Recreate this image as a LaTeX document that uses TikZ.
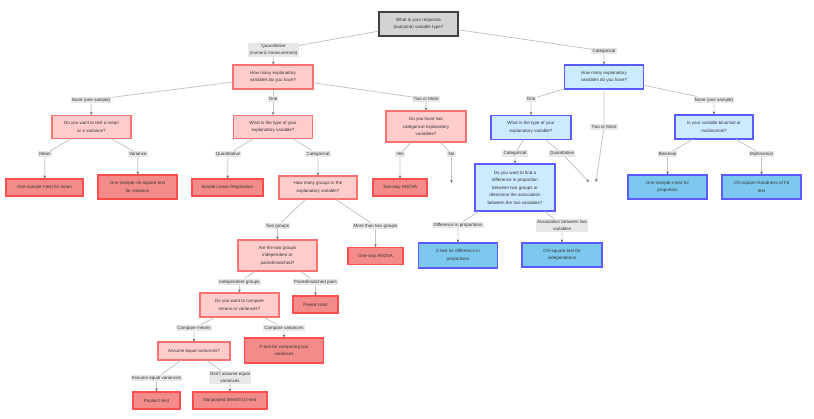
\documentclass[tikz,border=0pt]{standalone}
\usepackage{fontspec}
\setmainfont{Liberation Sans}
\usetikzlibrary{arrows.meta}
\definecolor{qred}{HTML}{FFCCCC}
\definecolor{leafred}{HTML}{F38B8B}
\definecolor{borderred}{HTML}{FF4D4D}
\definecolor{qblue}{HTML}{CDEBFF}
\definecolor{leafblue}{HTML}{7DC8EE}
\definecolor{borderblue}{HTML}{5B5BFF}
\definecolor{rootgray}{HTML}{D3D3D3}
\definecolor{labelgray}{HTML}{E8E8E8}
\definecolor{linegray}{HTML}{C4C4C4}
\definecolor{textdark}{HTML}{333333}

\begin{document}
\begin{tikzpicture}[x=1pt,y=-1pt]
    % Stili per i nodi e gli archi
    \tikzset{
        box_base/.style={
            text=textdark,
            line width=1.1pt,
            minimum width=79pt, % larghezza standard
            minimum height=24pt, % altezza standard
            align=center,
            font=\fontsize{4.5}{7.5}\selectfont,
            inner sep=1pt
        },
        root_box/.style={box_base, draw=black!75, fill=rootgray, line width=1.2pt},
        red_question/.style={box_base, draw=borderred!80, fill=qred},
        red_answer/.style={box_base, draw=borderred, fill=leafred},
        blue_question/.style={box_base, draw=borderblue, fill=qblue},
        blue_answer/.style={box_base, draw=borderblue, fill=leafblue},
        edge_label/.style={
            fill=labelgray,
            text=textdark,
            font=\fontsize{4.5}{7}\selectfont,
            align=center,
            inner sep=1.2pt
        },
        edge/.style={
            draw=linegray,
            line width=0.8pt,
            -{Stealth[length=3pt,width=2.6pt,color=black!60]}
        }
    }

    \useasboundingbox (0,0) rectangle (814,419);

    % Radice
    \node[root_box] (q_response) at (418.5,24) {What is your response\\(outcome) variable type?};

    % Ramo quantitativo
    \node[red_question, minimum width=80pt] (q_quant_count) at (273,77) {How many explanatory\\variables do you have?};
    \node[red_question, minimum height=23pt] (q_mean_var) at (91.5,127) {Do you want to test a mean\\or a variance?};
    \node[red_question, minimum height=23pt] (q_expl_type) at (273,127) {What is the type of your\\explanatory variable?};
    \node[red_question, minimum width=80pt, minimum height=31pt] (q_two_cat) at (426,126.5) {Do you have two\\categorical explanatory\\variables?};
    \node[red_answer, minimum width=77pt, minimum height=17pt] (a_t_mean) at (44.5,187.5) {One-sample t-test for mean};
    \node[red_answer] (a_chi_var) at (137.5,187) {One-sample chi-square test\\for variance};
    \node[red_answer, minimum width=71pt, minimum height=17pt] (a_slr) at (227.5,187.5) {Simple Linear Regression};
    \node[red_question, minimum width=78pt, minimum height=23pt] (q_groups) at (318,187.5) {How many groups in the\\explanatory variable?};
    \node[red_answer, minimum width=54pt, minimum height=17pt] (a_anova2) at (400,187.5) {Two-way ANOVA};
    \coordinate (end_no) at (451.5,183);
    \node[red_question, minimum height=31pt] (q_indep) at (277.5,255.5) {Are the two groups\\independent or\\paired/matched?};
    \node[red_answer, minimum width=55pt, minimum height=17pt] (a_anova1) at (375.5,256) {One-way ANOVA};
    \node[red_question] (q_means_vars) at (239.5,305) {Do you want to compare\\means or variances?};
    \node[red_answer, minimum width=45pt, minimum height=17pt] (a_paired) at (315.5,304.5) {Paired t-test};
    \node[red_question, minimum width=72pt, minimum height=18pt] (q_equal) at (194,351) {Assume equal variances?};
    \node[red_answer, minimum height=25pt] (a_f_test) at (284,350.5) {F-test for comparing two\\variances};
    \node[red_answer, minimum width=47pt, minimum height=17pt] (a_pooled) at (156.5,400.5) {Pooled t-test};
    \node[red_answer, minimum width=74pt, minimum height=17pt] (a_welch) at (230,400.5) {Nonpooled (Welch's) t-test};

    % Ramo categorico
    \node[blue_question] (q_cat_count) at (604,77) {How many explanatory\\variables do you have?};
    \node[blue_question, minimum width=80pt] (q_cat_type) at (531,127.5) {What is the type of your\\explanatory variable?};
    \node[blue_question, minimum width=78pt] (q_binom) at (714,127) {Is your variable binomial or\\multinomial?};
    \node[blue_question, minimum width=80pt, minimum height=47pt] (q_prop) at (515,187.5) {Do you want to find a\\difference in proportion\\between two groups or\\determine the association\\between the two variables?};
    \coordinate (end_quant) at (589,182);
    \coordinate (end_two) at (596,182);
    \node[blue_answer] (a_z_one) at (667.5,187) {One-sample z-test for\\proportion};
    \node[blue_answer] (a_gof) at (761.5,187) {Chi-square Goodness of Fit\\test};
    \node[blue_answer, minimum height=25pt] (a_z_diff) at (458,255.5) {Z-test for difference in\\proportions};
    \node[blue_answer, minimum width=80pt] (a_chi_ind) at (562,255) {Chi-square test for\\independence};

    % Etichette degli archi
    \node[edge_label] (l_quant) at (273.5,50) {Quantitative\\(numeric measurement)};
    \node[edge_label] (l_cat) at (604,51) {Categorical};
    \node[edge_label] (l_q_none) at (91,100) {None (one sample)};
    \node[edge_label] (l_q_one) at (273,99) {One};
    \node[edge_label] (l_q_two) at (426,99) {Two or More};
    \node[edge_label] (l_mean) at (45,154) {Mean};
    \node[edge_label] (l_variance) at (138,154) {Variance};
    \node[edge_label] (l_e_quant) at (228,154) {Quantitative};
    \node[edge_label] (l_e_cat) at (318,154) {Categorical};
    \node[edge_label] (l_yes) at (400,154) {Yes};
    \node[edge_label] (l_no) at (451.5,154) {No};
    \node[edge_label] (l_two_groups) at (277.5,226) {Two groups};
    \node[edge_label] (l_more_groups) at (375.5,226) {More than two groups};
    \node[edge_label] (l_indep) at (239.5,282) {Independent groups};
    \node[edge_label] (l_paired) at (315.5,282) {Paired/matched pairs};
    \node[edge_label] (l_cmp_means) at (194,328) {Compare means};
    \node[edge_label] (l_cmp_vars) at (284,328) {Compare variances};
    \node[edge_label] (l_eq) at (156.5,378) {Assume equal variances};
    \node[edge_label] (l_neq) at (230,377.5) {Don't assume equal\\variances};
    \node[edge_label] (l_c_one) at (531,99) {One};
    \node[edge_label] (l_c_two) at (604,127) {Two or More};
    \node[edge_label] (l_c_none) at (714,100) {None (one sample)};
    \node[edge_label] (l_c_cat) at (515,153.5) {Categorical};
    \node[edge_label] (l_c_quant) at (562,153.5) {Quantitative};
    \node[edge_label] (l_bin) at (667.5,154) {Binomial};
    \node[edge_label] (l_multi) at (761.5,154) {Multinomial};
    \node[edge_label] (l_diff) at (458,225) {Difference in proportions};
    \node[edge_label] (l_assoc) at (562,225.5) {Association between two\\variables};

    % Archi del ramo quantitativo
    \draw[edge] (q_response) -- (l_quant) -- (q_quant_count);
    \draw[edge] (q_quant_count) -- (l_q_none) -- (q_mean_var);
    \draw[edge] (q_quant_count) -- (l_q_one) -- (q_expl_type);
    \draw[edge] (q_quant_count) -- (l_q_two) -- (q_two_cat);
    \draw[edge] (q_mean_var) -- (l_mean) -- (a_t_mean);
    \draw[edge] (q_mean_var) -- (l_variance) -- (a_chi_var);
    \draw[edge] (q_expl_type) -- (l_e_quant) -- (a_slr);
    \draw[edge] (q_expl_type) -- (l_e_cat) -- (q_groups);
    \draw[edge] (q_two_cat) -- (l_yes) -- (a_anova2);
    \draw[edge] (q_two_cat) -- (l_no) -- (end_no);
    \draw[edge] (q_groups) -- (l_two_groups) -- (q_indep);
    \draw[edge] (q_groups) -- (l_more_groups) -- (a_anova1);
    \draw[edge] (q_indep) -- (l_indep) -- (q_means_vars);
    \draw[edge] (q_indep) -- (l_paired) -- (a_paired);
    \draw[edge] (q_means_vars) -- (l_cmp_means) -- (q_equal);
    \draw[edge] (q_means_vars) -- (l_cmp_vars) -- (a_f_test);
    \draw[edge] (q_equal) -- (l_eq) -- (a_pooled);
    \draw[edge] (q_equal) -- (l_neq) -- (a_welch);

    % Archi del ramo categorico
    \draw[edge] (q_response) -- (l_cat) -- (q_cat_count);
    \draw[edge] (q_cat_count) -- (l_c_one) -- (q_cat_type);
    \draw[edge] (q_cat_count) -- (l_c_two) -- (end_two);
    \draw[edge] (q_cat_count) -- (l_c_none) -- (q_binom);
    \draw[edge] (q_cat_type) -- (l_c_cat) -- (q_prop);
    \draw[edge] (q_cat_type) -- (l_c_quant) -- (end_quant);
    \draw[edge] (q_binom) -- (l_bin) -- (a_z_one);
    \draw[edge] (q_binom) -- (l_multi) -- (a_gof);
    \draw[edge] (q_prop) -- (l_diff) -- (a_z_diff);
    \draw[edge] (q_prop) -- (l_assoc) -- (a_chi_ind);

\end{tikzpicture}
\end{document}
